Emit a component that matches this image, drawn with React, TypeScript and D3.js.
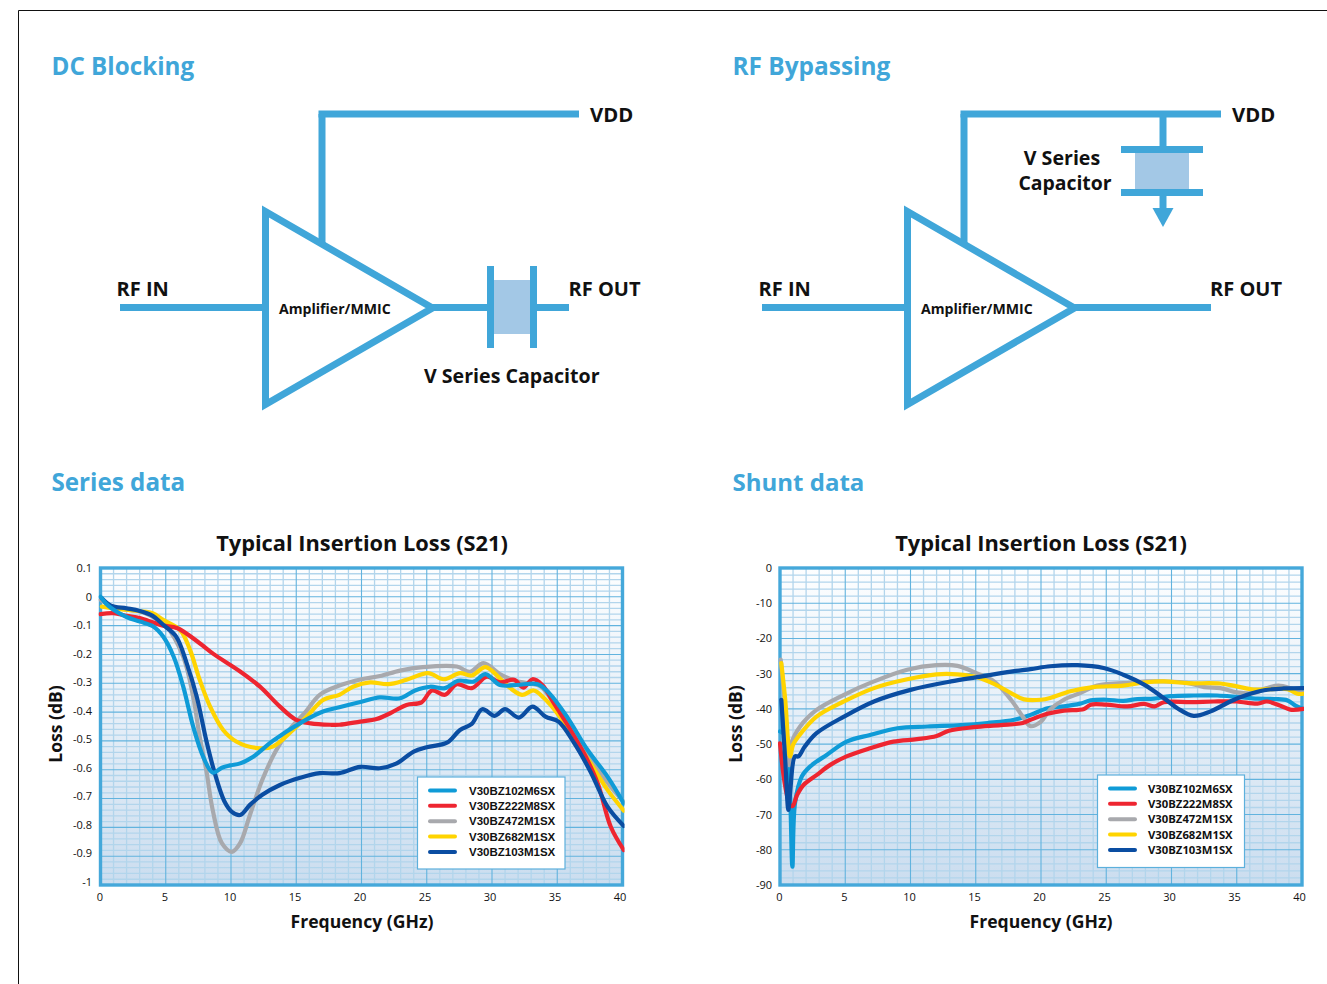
import React from "react";
import * as d3 from "d3";

type Pt = [number, number];

const partNames = ["V30BZ102M6SX", "V30BZ222M8SX", "V30BZ472M1SX", "V30BZ682M1SX", "V30BZ103M1SX"];
const partColors = ["#0f9bd7", "#ee2530", "#a8a9ad", "#ffd400", "#0a4da2"];

const series102: Pt[] = [[0,0],[0.4,-0.022],[1,-0.045],[2,-0.07],[3.03,-0.086],[4.05,-0.103],[4.8,-0.138],[5.6,-0.207],[6.33,-0.31],[7.1,-0.45],[7.87,-0.555],[8.6,-0.61],[9.3,-0.593],[9.93,-0.585],[10.7,-0.578],[11.7,-0.555],[13.2,-0.5],[15.5,-0.433],[17.05,-0.398],[18.3,-0.383],[20,-0.364],[21.4,-0.349],[22.95,-0.352],[24.1,-0.325],[25.25,-0.312],[26.4,-0.317],[27.4,-0.291],[28.6,-0.294],[29.5,-0.268],[30.6,-0.306],[31.9,-0.306],[33.5,-0.303],[34.4,-0.335],[35.8,-0.42],[37.3,-0.53],[38.85,-0.624],[40.1,-0.717]];
const series222: Pt[] = [[0,-0.06],[1,-0.057],[2,-0.066],[3,-0.074],[4.05,-0.089],[4.8,-0.1],[5.9,-0.109],[7.6,-0.161],[8.65,-0.198],[10.7,-0.259],[12.2,-0.311],[13.75,-0.381],[15,-0.427],[16.1,-0.439],[17.6,-0.444],[18.3,-0.444],[19.9,-0.433],[21.15,-0.424],[22.2,-0.404],[23.45,-0.375],[24.6,-0.366],[25.4,-0.325],[26.4,-0.34],[27.3,-0.303],[28.45,-0.317],[29.6,-0.277],[30.6,-0.297],[31.7,-0.288],[32.4,-0.315],[33.1,-0.286],[33.85,-0.306],[34.75,-0.37],[36,-0.46],[37.05,-0.543],[38.1,-0.647],[39.1,-0.798],[40.1,-0.879]];
const series472: Pt[] = [[0,-0.01],[1,-0.035],[2,-0.045],[3,-0.05],[4,-0.07],[5,-0.1],[6.33,-0.207],[7.1,-0.346],[7.6,-0.485],[8.1,-0.6],[8.6,-0.74],[9.3,-0.855],[10.07,-0.885],[10.7,-0.855],[11.45,-0.757],[12.4,-0.635],[13.4,-0.538],[14.5,-0.46],[15.7,-0.4],[16.8,-0.34],[18.3,-0.308],[20,-0.286],[21.4,-0.275],[22.95,-0.256],[24.7,-0.244],[27.3,-0.242],[28.3,-0.26],[29.35,-0.23],[30.6,-0.268],[31.7,-0.29],[32.7,-0.3],[33.7,-0.31],[34.75,-0.37],[36.3,-0.474],[37.8,-0.578],[39.1,-0.659],[40.1,-0.711]];
const series682: Pt[] = [[0.1,-0.034],[1,-0.04],[2,-0.045],[3,-0.05],[4,-0.057],[4.8,-0.08],[6.1,-0.115],[6.86,-0.184],[7.6,-0.288],[8.4,-0.381],[9.4,-0.462],[10.4,-0.502],[12,-0.525],[13.2,-0.52],[14.75,-0.462],[15.8,-0.416],[17.05,-0.358],[18.3,-0.34],[19.35,-0.312],[20.65,-0.297],[22.05,-0.303],[23.45,-0.288],[25.1,-0.265],[26.3,-0.286],[27.55,-0.265],[28.45,-0.273],[29.5,-0.244],[30.6,-0.283],[31.4,-0.317],[32.3,-0.34],[33.2,-0.325],[34,-0.352],[35,-0.404],[36.3,-0.491],[37.55,-0.578],[38.85,-0.67],[40.1,-0.742]];
const series103: Pt[] = [[0.1,-0.005],[0.8,-0.031],[2,-0.04],[3,-0.049],[4,-0.066],[4.8,-0.097],[5.8,-0.138],[6.6,-0.23],[7.37,-0.346],[8.1,-0.497],[8.65,-0.595],[9.5,-0.71],[10.07,-0.746],[10.7,-0.757],[11.45,-0.722],[12.4,-0.687],[13.75,-0.653],[15.3,-0.628],[16.8,-0.612],[18.3,-0.612],[19.9,-0.59],[21.4,-0.595],[22.7,-0.578],[24,-0.537],[25,-0.522],[26.55,-0.506],[27.55,-0.462],[28.45,-0.441],[29.25,-0.39],[30.2,-0.413],[31,-0.39],[32.05,-0.419],[33.1,-0.381],[34.1,-0.416],[35.1,-0.433],[36.3,-0.508],[37.55,-0.607],[38.85,-0.728],[40.1,-0.795]];

const shunt102: Pt[] = [[0,-46.4],[0.5,-47.9],[0.77,-64],[0.95,-84.8],[1.15,-66.8],[1.67,-59.2],[2.3,-56.4],[3.6,-53],[5.1,-49.3],[6.9,-47.4],[9,-45.5],[11.3,-45],[13.85,-44.6],[15.9,-44],[17.95,-43.1],[19.2,-41.7],[20.5,-39.8],[21.75,-39.3],[23,-38.5],[23.8,-37.6],[25,-37.4],[26.3,-37.7],[27.4,-37.2],[28.65,-37.1],[29.9,-36.4],[31.7,-36.2],[33.5,-36.2],[35,-36.6],[36.6,-37.1],[37.9,-37.2],[38.9,-37.6],[39.5,-39.1],[40.1,-40]];
const shunt222: Pt[] = [[0,-49.8],[0.4,-62],[0.77,-67.3],[0.97,-67.6],[1.3,-64.5],[1.8,-61.6],[2.8,-58.8],[3.85,-55.9],[5.1,-53.5],[6.9,-51.2],[8.7,-49.3],[10.5,-48.6],[12,-47.7],[12.95,-46.2],[14.85,-45.2],[16.9,-44.6],[18.6,-44],[19.2,-43.1],[20.5,-41.4],[21.75,-40.5],[23.3,-40],[23.8,-38.8],[25,-38.8],[26.6,-39.3],[27.9,-38.6],[28.7,-39.3],[29.4,-38.1],[31.5,-38.1],[33.25,-37.9],[35,-37.9],[36.6,-38.5],[37.3,-37.9],[38.35,-39.1],[39.1,-40.2],[40.1,-40]];
const shunt472: Pt[] = [[0.05,-26],[0.4,-40],[0.7,-56],[0.85,-50],[1.54,-45],[2.8,-40.3],[4.9,-36],[7.2,-32.2],[9.75,-28.9],[12,-27.6],[13.6,-27.8],[15.1,-29.9],[16.4,-32.2],[17.7,-37.4],[18.6,-42.2],[19.2,-44.9],[20,-43.6],[20.7,-40.2],[21.75,-37.4],[23,-35.5],[24.3,-33.4],[25.6,-32.8],[26.85,-32.6],[28.1,-32.2],[29.4,-32.2],[31.2,-32.6],[32.5,-33.8],[33.75,-34.1],[35,-35.3],[36.3,-35.5],[37.3,-34.1],[38.2,-33.4],[39.1,-34.1],[40.1,-35.5]];
const shunt682: Pt[] = [[0.1,-27],[0.4,-37.4],[0.77,-53.5],[1,-50.2],[1.5,-47.4],[2.8,-42.2],[4.9,-37.9],[7.2,-34.1],[9.75,-31.6],[12,-30.2],[13.6,-30.2],[15.1,-31],[16.4,-32.9],[17.7,-35.5],[18.7,-37.3],[20,-37.4],[20.7,-36.9],[22.25,-35],[24,-33.8],[26.3,-33.4],[27.9,-32.5],[29.4,-32.2],[31.2,-32.7],[33.75,-32.8],[35,-33.6],[36.3,-34.5],[37.6,-34.4],[38.9,-34.4],[39.65,-35.7],[40.1,-35.7]];
const shunt103: Pt[] = [[0.1,-37.4],[0.4,-54.5],[0.64,-68.7],[0.77,-64],[1.15,-53.5],[1.4,-53.5],[1.9,-50.7],[2.8,-46.9],[4.9,-42.2],[7.2,-37.9],[10,-34.6],[13.1,-32.2],[15.1,-31],[17.7,-29.4],[19.2,-28.7],[20.7,-27.9],[22.8,-27.6],[24.8,-28.4],[26.3,-30.3],[27.9,-33.1],[29.4,-36.9],[30.45,-39.8],[31.7,-42],[33,-40.7],[34.5,-37.9],[35.8,-36],[37.1,-34.7],[38.6,-34.2],[40.1,-34.1]];

const freqTicks = [0, 5, 10, 15, 20, 25, 30, 35, 40];
const seriesTicks = [0.1, 0, -0.1, -0.2, -0.3, -0.4, -0.5, -0.6, -0.7, -0.8, -0.9, -1];
const shuntTicks = [0, -10, -20, -30, -40, -50, -60, -70, -80, -90];

const BLUE = "#40a6d9";
const FONT = "'Open Sans', 'Noto Sans', sans-serif";

function Chart(props: {
  id: string; left: number; right: number; top: number; bottom: number; labelBottom: number;
  domain: [number, number]; ticks: number[]; data: Pt[][]; order: number[];
  title: string; titleX: number; labelX: number; tickX: number;
  legend: { x: number; y: number; w: number; h: number; swatch: number; text: number; first: number; font: string; size: number };
  fmt: (v: number) => string;
}) {
  const { id, left, right, top, bottom, labelBottom, domain, ticks, data, order, title, titleX, legend, labelX, tickX, fmt } = props;
  const x = d3.scaleLinear().domain([0, 40]).range([left, right]);
  const y = d3.scaleLinear().domain(domain).range([top, bottom]);
  const xLabel = d3.scaleLinear().domain([0, 40]).range([left - 0.5, right - 2.5]);
  const yLabel = d3.scaleLinear().domain(domain).range([top, labelBottom]);
  const line = d3.line<Pt>().x(d => x(d[0])).y(d => y(d[1])).curve(d3.curveCatmullRom.alpha(0.5));
  const step = (ticks[0] - ticks[1]) / 5;
  const minorY = d3.range(0, (ticks.length - 1) * 5 + 1).map(i => domain[0] - i * step);
  const minorX = d3.range(0, 41);
  return (
    <g>
      <defs>
        <linearGradient id={id + "bg"} x1="0" y1="0" x2="0" y2="1">
          <stop offset="0" stopColor="#fdfeff" />
          <stop offset="1" stopColor="#cbddef" />
        </linearGradient>
        <clipPath id={id + "clip"}>
          <rect x={left - 2} y={top - 2} width={right - left + 4} height={bottom - top + 4} />
        </clipPath>
      </defs>
      <rect x={left} y={top} width={right - left} height={bottom - top} fill={`url(#${id}bg)`} />
      {minorY.map((v, i) => i % 5 !== 0 && (
        <line key={"my" + i} x1={left} x2={right} y1={y(v)} y2={y(v)} stroke="#b2d5ec" strokeWidth={1.3} />
      ))}
      {minorX.map(v => v % 5 !== 0 && (
        <line key={"mx" + v} x1={x(v)} x2={x(v)} y1={top} y2={bottom} stroke="#b2d5ec" strokeWidth={1.3} />
      ))}
      {ticks.map(v => (
        <line key={"Y" + v} x1={left} x2={right} y1={y(v)} y2={y(v)} stroke="#62b3de" strokeWidth={1.1} />
      ))}
      {freqTicks.map(v => (
        <line key={"X" + v} x1={x(v)} x2={x(v)} y1={top} y2={bottom} stroke="#62b3de" strokeWidth={1.1} />
      ))}
      <rect x={left} y={top} width={right - left} height={bottom - top} fill="none" stroke="#45a8da" strokeWidth={3.4} />
      <g clipPath={`url(#${id}clip)`}>
        {order.map(i => (
          <path key={i} d={line(data[i]) as string} fill="none" stroke={partColors[i]} strokeWidth={4.2} strokeLinejoin="round" strokeLinecap="round" />
        ))}
      </g>
      <rect x={legend.x} y={legend.y} width={legend.w} height={legend.h} fill="#fff" stroke="#5cb0dc" strokeWidth={1.2} />
      {partNames.map((n, i) => {
        const ly = legend.first + i * 15.35;
        return (
          <g key={n}>
            <line x1={legend.swatch} x2={legend.swatch + 25} y1={ly} y2={ly} stroke={partColors[i]} strokeWidth={4} strokeLinecap="round" />
            <text x={legend.text} y={ly + 4} fontFamily={legend.font} fontWeight={700} fontSize={legend.size} fill="#111">{n}</text>
          </g>
        );
      })}
      {ticks.map(v => (
        <text key={"t" + v} x={tickX} y={yLabel(v) + 4} textAnchor="end" fontFamily={FONT} fontSize={11} fontWeight={500} fill="#111">{fmt(v)}</text>
      ))}
      {freqTicks.map(v => (
        <text key={"f" + v} x={xLabel(v)} y={901} textAnchor="middle" fontFamily={FONT} fontSize={11} fontWeight={500} fill="#111">{v}</text>
      ))}
      <text x={titleX} y={551} textAnchor="middle" fontFamily={FONT} fontWeight={700} fontSize={21.8} fill="#111">{title}</text>
      <text x={titleX} y={928} textAnchor="middle" fontFamily={FONT} fontWeight={700} fontSize={17.6} fill="#111">Frequency (GHz)</text>
      <text transform={`translate(${labelX},724) rotate(-90)`} textAnchor="middle" fontFamily={FONT} fontWeight={700} fontSize={17.5} fill="#111">Loss (dB)</text>
    </g>
  );
}

function Label(p: { x: number; y: number; size?: number; anchor?: string; children: React.ReactNode }) {
  return <text x={p.x} y={p.y} textAnchor={(p.anchor as any) || "start"} fontFamily={FONT} fontWeight={700} fontSize={p.size || 20} fill="#111">{p.children}</text>;
}

function Amp({ dx }: { dx: number }) {
  return (
    <g transform={`translate(${dx},0)`} stroke={BLUE} strokeWidth={7} fill="none">
      <line x1={120} x2={263} y1={307.5} y2={307.5} />
      <polyline points="322,114 322,243" />
      <polygon points="265.5,211.5 265.5,404.5 432.5,308" strokeLinejoin="miter" />
    </g>
  );
}

export default function App() {
  const seriesData = [series102, series222, series472, series682, series103];
  const shuntData = [shunt102, shunt222, shunt472, shunt682, shunt103];
  const fmt1 = (v: number) => (v === 0 ? "0" : v === -1 ? "-1" : d3.format(".1f")(v).replace("−", "-"));
  const fmt0 = (v: number) => String(v);
  return (
    <svg width={1327} height={984} viewBox="0 0 1327 984" style={{ position: "absolute", left: 0, top: 0, display: "block" }}>
      <rect width={1327} height={984} fill="#fff" />
      <path d="M18.5 984 V10.5 H1327" fill="none" stroke="#111" strokeWidth={1} />

      <text x={51.5} y={75} fontFamily={FONT} fontWeight={700} fontSize={24.2} fill={BLUE}>DC Blocking</text>
      <text x={732.5} y={75} fontFamily={FONT} fontWeight={700} fontSize={24.4} fill={BLUE}>RF Bypassing</text>
      <text x={51.5} y={491} fontFamily={FONT} fontWeight={700} fontSize={24.2} fill={BLUE}>Series data</text>
      <text x={732.5} y={491} fontFamily={FONT} fontWeight={700} fontSize={24} fill={BLUE}>Shunt data</text>

      <Amp dx={0} />
      <line x1={318.5} x2={579} y1={114} y2={114} stroke={BLUE} strokeWidth={7} />
      <line x1={432} x2={569} y1={307.5} y2={307.5} stroke={BLUE} strokeWidth={7} />
      <rect x={494} y={266} width={36} height={82} fill="#fff" />
      <rect x={494} y={280} width={36} height={54} fill="#a3c8e6" />
      <rect x={487} y={266} width={7} height={82} fill={BLUE} />
      <rect x={530} y={266} width={7} height={82} fill={BLUE} />
      <Label x={590} y={122} size={20.3}>VDD</Label>
      <Label x={116.5} y={296}>RF IN</Label>
      <Label x={568.5} y={296}>RF OUT</Label>
      <Label x={279} y={314} size={14.1}>Amplifier/MMIC</Label>
      <Label x={424} y={383} size={19.6}>V Series Capacitor</Label>

      <Amp dx={642} />
      <line x1={960.5} x2={1221} y1={114} y2={114} stroke={BLUE} strokeWidth={7} />
      <line x1={1074} x2={1211} y1={307.5} y2={307.5} stroke={BLUE} strokeWidth={7} />
      <line x1={1163} x2={1163} y1={114} y2={210} stroke={BLUE} strokeWidth={7} />
      <rect x={1135} y={152} width={54} height={37} fill="#a3c8e6" />
      <rect x={1121} y={146} width={82} height={7} fill={BLUE} />
      <rect x={1121} y={189} width={82} height={7} fill={BLUE} />
      <polygon points="1152.5,208 1173.5,208 1163,227" fill={BLUE} />
      <Label x={1232} y={122} size={20.3}>VDD</Label>
      <Label x={758.5} y={296}>RF IN</Label>
      <Label x={1210} y={296}>RF OUT</Label>
      <Label x={921} y={314} size={14.1}>Amplifier/MMIC</Label>
      <Label x={1062} y={165} anchor="middle" size={19.6}>V Series</Label>
      <Label x={1065} y={190} anchor="middle" size={19.4}>Capacitor</Label>

      <Chart id="se" left={100.5} right={622.5} top={568} bottom={885} labelBottom={882} domain={[0.1, -1]} ticks={seriesTicks}
        data={seriesData} order={[2, 3, 1, 4, 0]} title="Typical Insertion Loss (S21)" titleX={362} labelX={62} tickX={92} fmt={fmt1}
        legend={{ x: 417.5, y: 777, w: 147.5, h: 92, swatch: 430, text: 469, first: 790.5, font: "'Liberation Sans', Arial, sans-serif", size: 11.5 }} />
      <Chart id="sh" left={780} right={1302} top={568} bottom={885} labelBottom={885} domain={[0, -90]} ticks={shuntTicks}
        data={shuntData} order={[0, 2, 3, 1, 4]} title="Typical Insertion Loss (S21)" titleX={1041} labelX={742} tickX={772} fmt={fmt0}
        legend={{ x: 1097.5, y: 775, w: 147, h: 92.5, swatch: 1110, text: 1148, first: 788.5, font: FONT, size: 11.3 }} />
    </svg>
  );
}
